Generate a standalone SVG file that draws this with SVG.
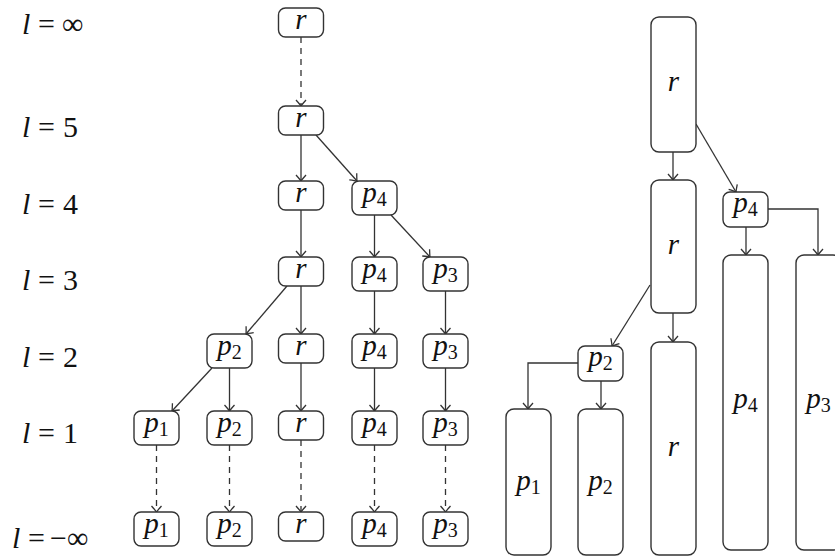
<svg xmlns="http://www.w3.org/2000/svg" width="835" height="557" viewBox="0 0 835 557">
<defs>
<style>
rect.box{fill:#ffffff;stroke:#333333;stroke-width:1.4}
path.e{fill:none;stroke:#333333;stroke-width:1.3;marker-end:url(#ah)}
path.d{stroke-dasharray:6 5}
text{font-family:"Liberation Serif",serif;fill:#111111}
text.lab{font-size:30px}
text.t{font-size:29px;font-style:italic;text-anchor:middle}
tspan.i{font-style:italic}
tspan.s{font-style:normal;font-size:20px}
</style>
<marker id="ah" markerUnits="userSpaceOnUse" markerWidth="14" markerHeight="14" viewBox="-8 -7 9 14" refX="0" refY="0" orient="auto">
<path d="M-6,-5 Q-1.5,-1 0,0 Q-1.5,1 -6,5" fill="none" stroke="#333333" stroke-width="1.3"/>
</marker>
</defs>
<rect width="835" height="557" fill="#ffffff"/>
<g id="labels">
<text class="lab" y="34"><tspan class="i" x="22">l</tspan><tspan x="38">=</tspan><tspan x="62">∞</tspan></text>
<text class="lab" y="137"><tspan class="i" x="22">l</tspan><tspan x="38">=</tspan><tspan x="63">5</tspan></text>
<text class="lab" y="214"><tspan class="i" x="22">l</tspan><tspan x="38">=</tspan><tspan x="63">4</tspan></text>
<text class="lab" y="290"><tspan class="i" x="22">l</tspan><tspan x="38">=</tspan><tspan x="63">3</tspan></text>
<text class="lab" y="367"><tspan class="i" x="22">l</tspan><tspan x="38">=</tspan><tspan x="63">2</tspan></text>
<text class="lab" y="443"><tspan class="i" x="22">l</tspan><tspan x="38">=</tspan><tspan x="63">1</tspan></text>
<text class="lab" y="548"><tspan class="i" x="12">l</tspan><tspan x="28">=</tspan><tspan x="50">−</tspan><tspan x="67">∞</tspan></text>
</g>
<g id="edges">
<path class="e d" d="M301,37V106"/>
<path class="e" d="M301,135V181"/>
<path class="e" d="M316,135L357,181"/>
<path class="e" d="M301,210V257"/>
<path class="e" d="M374.5,215V257"/>
<path class="e" d="M391,215L430,257"/>
<path class="e" d="M287,286L246,334"/>
<path class="e" d="M301,286V334"/>
<path class="e" d="M374.5,291V334"/>
<path class="e" d="M445.5,291V334"/>
<path class="e" d="M212,368L172,411"/>
<path class="e" d="M229.5,368V411"/>
<path class="e" d="M301,363V411"/>
<path class="e" d="M374.5,368V411"/>
<path class="e" d="M445.5,368V411"/>
<path class="e d" d="M156.5,445V512"/>
<path class="e d" d="M229.5,445V512"/>
<path class="e d" d="M301,440V512"/>
<path class="e d" d="M374.5,445V512"/>
<path class="e d" d="M445.5,445V512"/>
<path class="e" d="M673,152V180"/>
<path class="e" d="M696,124L736,192"/>
<path class="e" d="M746,227V255"/>
<path class="e" d="M768,209H818V255"/>
<path class="e" d="M673,313V342"/>
<path class="e" d="M650,285L612,346"/>
<path class="e" d="M578,363H528V409"/>
<path class="e" d="M601,381V409"/>
</g>
<g id="L_inf_r"><rect class="box" x="278.5" y="8" width="45" height="29" rx="7"/><text class="t" x="301" y="29">r</text></g>
<g id="L5_r"><rect class="box" x="278.5" y="106" width="45" height="29" rx="7"/><text class="t" x="301" y="127">r</text></g>
<g id="L4_r"><rect class="box" x="278.5" y="181" width="45" height="29" rx="7"/><text class="t" x="301" y="202">r</text></g>
<g id="L4_p4"><rect class="box" x="352" y="181" width="45" height="34" rx="7"/><text class="t" x="374.5" y="202">p<tspan class="s" dy="4">4</tspan></text></g>
<g id="L3_r"><rect class="box" x="278.5" y="257" width="45" height="29" rx="7"/><text class="t" x="301" y="278">r</text></g>
<g id="L3_p4"><rect class="box" x="352" y="257" width="45" height="34" rx="7"/><text class="t" x="374.5" y="278">p<tspan class="s" dy="4">4</tspan></text></g>
<g id="L3_p3"><rect class="box" x="423" y="257" width="45" height="34" rx="7"/><text class="t" x="445.5" y="278">p<tspan class="s" dy="4">3</tspan></text></g>
<g id="L2_p2"><rect class="box" x="207" y="334" width="45" height="34" rx="7"/><text class="t" x="229.5" y="355">p<tspan class="s" dy="4">2</tspan></text></g>
<g id="L2_r"><rect class="box" x="278.5" y="334" width="45" height="29" rx="7"/><text class="t" x="301" y="355">r</text></g>
<g id="L2_p4"><rect class="box" x="352" y="334" width="45" height="34" rx="7"/><text class="t" x="374.5" y="355">p<tspan class="s" dy="4">4</tspan></text></g>
<g id="L2_p3"><rect class="box" x="423" y="334" width="45" height="34" rx="7"/><text class="t" x="445.5" y="355">p<tspan class="s" dy="4">3</tspan></text></g>
<g id="L1_p1"><rect class="box" x="134" y="411" width="45" height="34" rx="7"/><text class="t" x="156.5" y="432">p<tspan class="s" dy="4">1</tspan></text></g>
<g id="L1_p2"><rect class="box" x="207" y="411" width="45" height="34" rx="7"/><text class="t" x="229.5" y="432">p<tspan class="s" dy="4">2</tspan></text></g>
<g id="L1_r"><rect class="box" x="278.5" y="411" width="45" height="29" rx="7"/><text class="t" x="301" y="432">r</text></g>
<g id="L1_p4"><rect class="box" x="352" y="411" width="45" height="34" rx="7"/><text class="t" x="374.5" y="432">p<tspan class="s" dy="4">4</tspan></text></g>
<g id="L1_p3"><rect class="box" x="423" y="411" width="45" height="34" rx="7"/><text class="t" x="445.5" y="432">p<tspan class="s" dy="4">3</tspan></text></g>
<g id="Lm_p1"><rect class="box" x="134" y="512" width="45" height="34" rx="7"/><text class="t" x="156.5" y="533">p<tspan class="s" dy="4">1</tspan></text></g>
<g id="Lm_p2"><rect class="box" x="207" y="512" width="45" height="34" rx="7"/><text class="t" x="229.5" y="533">p<tspan class="s" dy="4">2</tspan></text></g>
<g id="Lm_r"><rect class="box" x="278.5" y="512" width="45" height="29" rx="7"/><text class="t" x="301" y="533">r</text></g>
<g id="Lm_p4"><rect class="box" x="352" y="512" width="45" height="34" rx="7"/><text class="t" x="374.5" y="533">p<tspan class="s" dy="4">4</tspan></text></g>
<g id="Lm_p3"><rect class="box" x="423" y="512" width="45" height="34" rx="7"/><text class="t" x="445.5" y="533">p<tspan class="s" dy="4">3</tspan></text></g>
<g id="R_r1"><rect class="box" x="651" y="17" width="45" height="135" rx="8"/><text class="t" x="673.5" y="91">r</text></g>
<g id="R_r2"><rect class="box" x="651" y="180" width="45" height="133" rx="8"/><text class="t" x="673.5" y="254">r</text></g>
<g id="R_r3"><rect class="box" x="651" y="342" width="45" height="213" rx="8"/><text class="t" x="673.5" y="456">r</text></g>
<g id="R_p4s"><rect class="box" x="723" y="192" width="45" height="35" rx="7"/><text class="t" x="745.5" y="212">p<tspan class="s" dy="4">4</tspan></text></g>
<g id="R_p4"><rect class="box" x="723" y="255" width="45" height="295" rx="8"/><text class="t" x="745.5" y="408">p<tspan class="s" dy="4">4</tspan></text></g>
<g id="R_p3"><rect class="box" x="796" y="255" width="45" height="295" rx="8"/><text class="t" x="818.5" y="408">p<tspan class="s" dy="4">3</tspan></text></g>
<g id="R_p2s"><rect class="box" x="578" y="346" width="45" height="35" rx="7"/><text class="t" x="600.5" y="366">p<tspan class="s" dy="4">2</tspan></text></g>
<g id="R_p1"><rect class="box" x="506" y="409" width="45" height="146" rx="8"/><text class="t" x="528.5" y="490">p<tspan class="s" dy="4">1</tspan></text></g>
<g id="R_p2"><rect class="box" x="578" y="409" width="45" height="146" rx="8"/><text class="t" x="600.5" y="490">p<tspan class="s" dy="4">2</tspan></text></g>
</svg>
